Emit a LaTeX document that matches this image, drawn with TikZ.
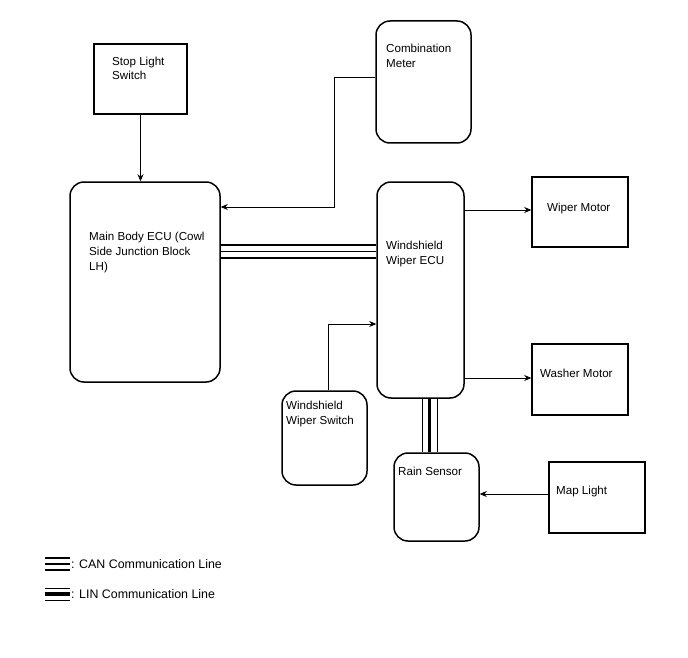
\documentclass[tikz,border=0pt]{standalone}
\usepackage{fontspec}
\setmainfont{Liberation Sans}
\usetikzlibrary{arrows.meta}
\begin{document}
\begin{tikzpicture}[x=1pt,y=-1pt,
  rbox/.style={draw, line width=1.5pt, inner sep=0, rounded corners=14pt},
  lbl/.style={anchor=north west, inner sep=0, align=left, font=\fontsize{11.6}{15}\selectfont},
  leg/.style={anchor=west, inner sep=0, font=\fontsize{12.4}{15}\selectfont},
  arr/.style={line width=0.8pt, -{Stealth[length=7pt,width=6pt]}},
  thk/.style={line width=2pt},
  thn/.style={line width=1pt}]
\useasboundingbox (0,0) rectangle (688,658);
% boxes
\node[draw, line width=1.5pt, minimum width=93pt, minimum height=70pt] (sls) at (140.5,79) {};
\node[rbox, minimum width=95pt, minimum height=122pt] (cm) at (423.5,82) {};
\node[rbox, minimum width=150pt, minimum height=200pt] (mb) at (145,282) {};
\node[rbox, minimum width=87pt, minimum height=216pt] (we) at (420.5,290) {};
\node[draw, line width=1.5pt, minimum width=96pt, minimum height=70pt] (wm) at (580,212) {};
\node[draw, line width=1.5pt, minimum width=96pt, minimum height=71pt] (wsm) at (580,379.5) {};
\node[rbox, minimum width=85pt, minimum height=94pt] (ws) at (324.5,438) {};
\node[rbox, minimum width=85pt, minimum height=88pt] (rs) at (436.5,497) {};
\node[draw, line width=1.5pt, minimum width=96pt, minimum height=71pt] (ml) at (597,497.5) {};
% labels
\node[lbl, font=\fontsize{11.6}{14}\selectfont] (t1) at (112,56.5) {Stop Light\\Switch};
\node[lbl] (t2) at (386,43.5) {Combination\\Meter};
\node[lbl] (t3) at (89,231.5) {Main Body ECU (Cowl\\Side Junction Block\\LH)};
\node[lbl] (t4) at (386,240.5) {Windshield\\Wiper ECU};
\node[lbl] (t5) at (547,202.5) {Wiper Motor};
\node[lbl] (t6) at (540,368.5) {Washer Motor};
\node[lbl] (t7) at (286,400.5) {Windshield\\Wiper Switch};
\node[lbl] (t8) at (398,466.5) {Rain Sensor};
\node[lbl] (t9) at (556,485.5) {Map Light};
% arrows
\draw[arr] (sls.south) -- (mb.north -| sls.south);
\coordinate (c1) at (334,77);
\draw[arr] (cm.west |- c1) -- (c1) |- (mb.east |- 0,207);
\draw[arr] (we.east |- 0,210) -- (wm.west |- 0,210);
\draw[arr] (we.east |- 0,378) -- (wsm.west |- 0,378);
\coordinate (c2) at (328,324);
\draw[arr] (ws.north -| c2) -- (c2) -- (we.west |- c2);
\draw[arr] (ml.west |- 0,494) -- (rs.east |- 0,494);
% CAN
\draw[thk] (mb.east |- 0,245) -- (we.west |- 0,245);
\draw[thn] (mb.east |- 0,251.5) -- (we.west |- 0,251.5);
\draw[thk] (mb.east |- 0,258) -- (we.west |- 0,258);
% LIN
\draw[thn] (we.south -| 422,0) -- (rs.north -| 422,0);
\draw[line width=3pt] (we.south -| 429.5,0) -- (rs.north -| 429.5,0);
\draw[thn] (we.south -| 437,0) -- (rs.north -| 437,0);
% legend
\coordinate (l1a) at (45,558); \coordinate (l1b) at (70,558);
\draw[thk] (l1a) -- (l1b);
\draw[thk] ([yshift=-6pt]l1a) -- ([yshift=-6pt]l1b);
\draw[thk] ([yshift=-12pt]l1a) -- ([yshift=-12pt]l1b);
\node[leg] (lg1) at (71,564) {: CAN Communication Line};
\coordinate (l2a) at (45,588); \coordinate (l2b) at (70,588);
\draw[thn] (l2a) -- (l2b);
\draw[line width=3.5pt] ([yshift=-6pt]l2a) -- ([yshift=-6pt]l2b);
\draw[thn] ([yshift=-12pt]l2a) -- ([yshift=-12pt]l2b);
\node[leg] (lg2) at (71,594) {: LIN Communication Line};
\end{tikzpicture}
\end{document}
